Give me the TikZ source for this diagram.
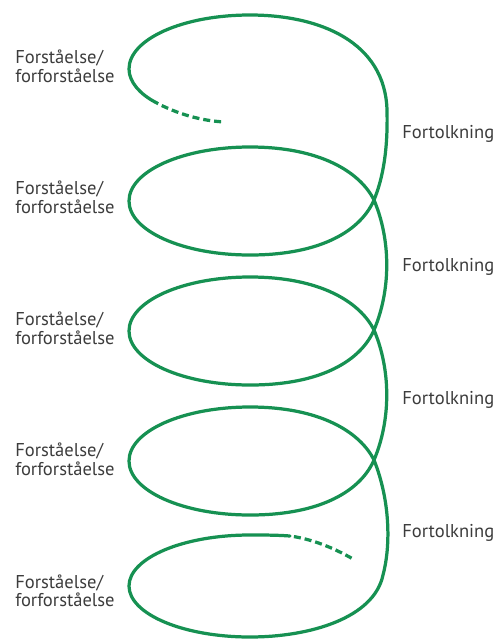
\documentclass[tikz,border=0pt]{standalone}
\usepackage{fontspec}
\newfontfamily\spiralfont{PT Sans}
\definecolor{spiralgreen}{RGB}{22,145,82}
\definecolor{labelgrey}{RGB}{60,60,60}
\tikzset{
  spiral/.style={spiralgreen,line width=2.3pt,line cap=round},
  spiraldash/.style={spiralgreen,line width=2.3pt,
    dash pattern=on 5pt off 2.8pt,dash phase=5pt},
  lbl/.style={font=\spiralfont\fontsize{13.2}{13.5}\selectfont,
    text=labelgrey,inner sep=0pt}
}
\begin{document}
\begin{tikzpicture}[x=0.025cm,y=-0.025cm]
  \useasboundingbox (0,0) rectangle (497,640);
  % labels on the left and right
  \foreach \i in {1,...,5}
    \node[lbl,align=left,anchor=west] (forst\i) at (15,{66+131.2*(\i-1)})
      {Forståelse/\\forforståelse};
  \foreach \i in {1,...,4}
    \node[lbl,anchor=base west] (tolk\i) at (402,{138+133.3*(\i-1)})
      {Fortolkning};
  % top loop
  \draw[spiraldash] (225,122) .. controls (202,121) and (177,114) .. (155,102);
  \draw[spiral] (155,102) .. controls (140,94) and (129,82) .. (129,69)
      .. controls (129,39) and (183,15) .. (250,15)
      .. controls (320,15) and (385,42) .. (387,110)
      .. controls (388,150) and (383,178) .. (374,200);
  % middle loops
  \foreach \y in {200,330,460}
    \draw[spiral] (374,\y) .. controls (361,\y+30) and (322,\y+55) .. (250,\y+55)
      .. controls (183,\y+55) and (129,\y+31) .. (129,\y+1)
      .. controls (129,\y-29) and (183,\y-53) .. (250,\y-53)
      .. controls (320,\y-53) and (360,\y-28) .. (374,\y);
  \foreach \y in {200,330}
    \draw[spiral] (374,\y) .. controls (391,\y+40) and (391,\y+90) .. (374,\y+130);
  % bottom loop
  \draw[spiral] (374,460) .. controls (390,500) and (391,545) .. (383,575)
      .. controls (374,618) and (310,637) .. (250,637)
      .. controls (183,637) and (129,614) .. (129,586)
      .. controls (129,558) and (183,535) .. (250,535)
      .. controls (263,535) and (277,535) .. (290,536);
  \draw[spiraldash] (290,536) .. controls (312,539) and (334,548) .. (353,559);
\end{tikzpicture}
\end{document}
